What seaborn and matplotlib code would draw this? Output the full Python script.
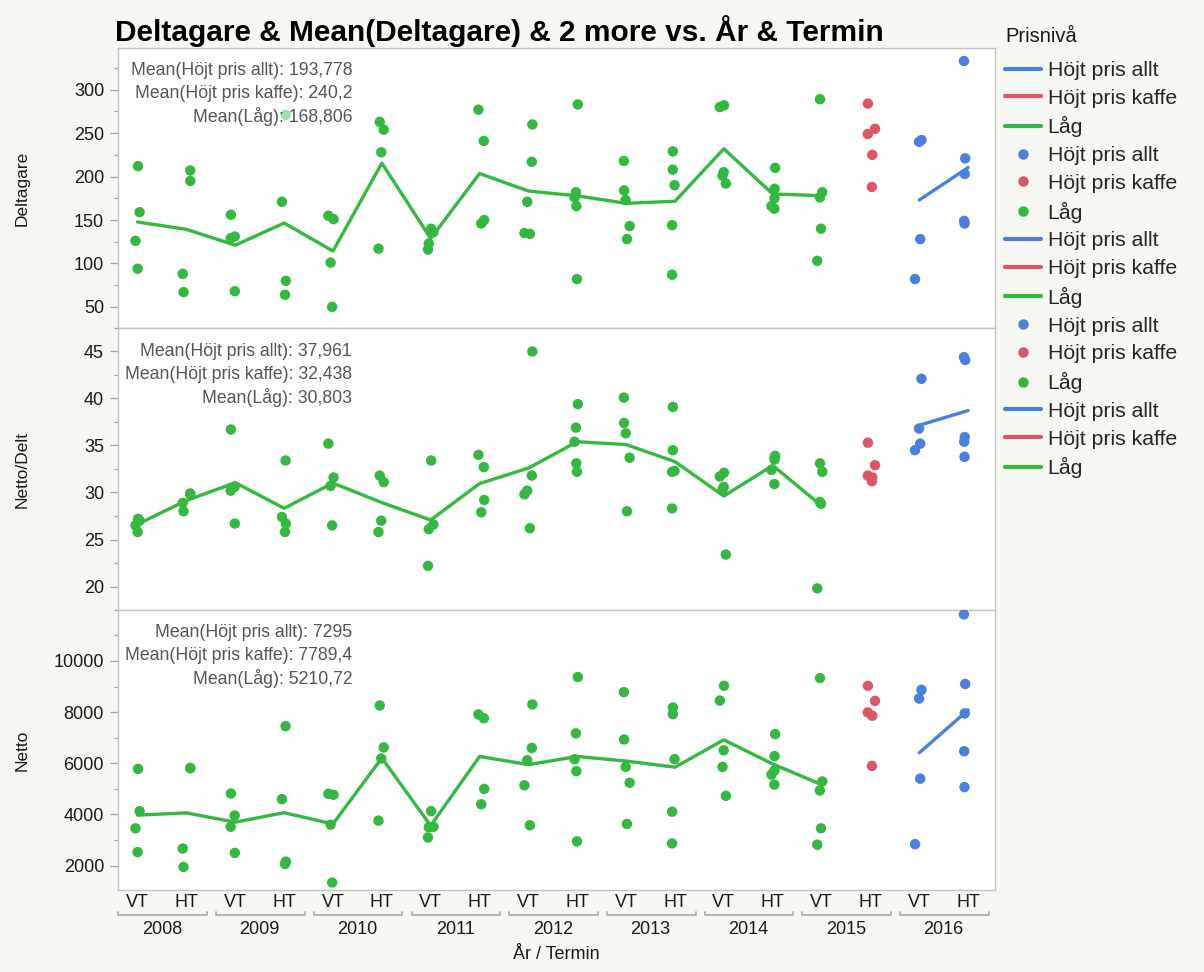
import numpy as np
import pandas as pd
import matplotlib
matplotlib.use("Agg")
import matplotlib.pyplot as plt
import matplotlib.transforms as mtransforms
from matplotlib.lines import Line2D
from matplotlib.ticker import MultipleLocator, AutoMinorLocator
import seaborn as sns

# ---------------- data ----------------
years = ["2008", "2009", "2010", "2011", "2012", "2013", "2014", "2015", "2016"]
terms = ["VT", "HT"]
prisniva = ["Låg"] * 15 + ["Höjt pris kaffe"] + ["Höjt pris allt"] * 2
levels = ["Höjt pris allt", "Höjt pris kaffe", "Låg"]

deltagare = [
    [212, 159, 126, 94], [207, 195, 88, 67], [156, 131, 129, 68], [271, 171, 80, 64],
    [155, 151, 101, 50], [263, 254, 228, 117], [140, 136, 123, 116], [277, 241, 150, 146],
    [260, 217, 171, 135, 134], [283, 182, 176, 166, 82], [218, 184, 173, 143, 128],
    [229, 208, 190, 144, 87], [282, 280, 205, 201, 192], [210, 186, 175, 166, 163],
    [289, 182, 176, 140, 103], [284, 255, 249, 225, 188], [242, 240, 128, 82],
    [333, 221, 203, 149, 146],
]
netto_delt = [
    [27.2, 27.0, 26.5, 25.8], [29.9, 29.8, 28.9, 28.0], [36.7, 30.6, 30.2, 26.7],
    [33.4, 27.4, 26.7, 25.8], [35.2, 31.6, 30.7, 26.5], [31.8, 31.1, 27.0, 25.8],
    [33.4, 26.6, 26.1, 22.2], [34.0, 32.7, 29.2, 27.9], [45.0, 31.8, 30.2, 29.8, 26.2],
    [39.4, 36.9, 35.4, 33.1, 32.2], [40.1, 37.4, 36.3, 33.7, 28.0],
    [39.1, 34.5, 32.3, 32.2, 28.3], [32.1, 31.7, 30.6, 30.3, 23.4],
    [33.9, 33.7, 33.5, 32.4, 30.9], [33.1, 32.2, 29.0, 28.8, 19.8],
    [35.3, 32.9, 31.8, 31.6, 31.2], [42.1, 36.8, 35.2, 34.5],
    [44.4, 44.1, 35.9, 35.4, 33.8],
]
netto = [
    [5780, 4130, 3460, 2530], [5820, 5810, 2670, 1950], [4820, 3960, 3520, 2500],
    [7450, 4600, 2160, 2070], [4810, 4770, 3600, 1340], [8260, 6620, 6190, 3760],
    [4130, 3520, 3500, 3100], [7910, 7760, 5000, 4400], [8300, 6600, 6120, 5140, 3580],
    [9370, 7170, 6160, 5690, 2950], [8780, 6930, 5860, 5240, 3630],
    [8180, 7920, 6160, 4110, 2870], [9030, 8450, 6510, 5860, 4730],
    [7140, 6280, 5720, 5560, 5170], [9330, 5290, 4940, 3460, 2820],
    [9030, 8440, 7990, 7860, 5900], [8870, 8530, 5400, 2840],
    [11820, 9100, 7950, 6470, 5070],
]
mean_texts = [
    ["Mean(Höjt pris allt): 193,778", "Mean(Höjt pris kaffe): 240,2", "Mean(Låg): 168,806"],
    ["Mean(Höjt pris allt): 37,961", "Mean(Höjt pris kaffe): 32,438", "Mean(Låg): 30,803"],
    ["Mean(Höjt pris allt): 7295", "Mean(Höjt pris kaffe): 7789,4", "Mean(Låg): 5210,72"],
]

rows = []
for i in range(len(deltagare)):
    for d, nd, n in zip(deltagare[i], netto_delt[i], netto[i]):
        rows.append({"pos": i, "Prisnivå": prisniva[i], "Deltagare": d,
                     "Netto/Delt": nd, "Netto": n})
df = pd.DataFrame(rows)

# ---------------- style ----------------
sns.set_theme(style="white")
plt.rcParams["font.family"] = ["Liberation Sans", "DejaVu Sans"]
palette = {"Höjt pris allt": "#4a80de", "Höjt pris kaffe": "#dc5668", "Låg": "#33b840"}
bg = "#f7f7f3"
spine_c = "#c4c4c4"

fig = plt.figure(figsize=(12.04, 9.72), dpi=100, facecolor=bg)
W, H = 1204, 972
left, right = 118 / W, 995 / W
panels = [(48, 328), (328, 610), (610, 890)]
cols = ["Deltagare", "Netto/Delt", "Netto"]
ylims = [(25.7, 348), (17.5, 47.5), (1050, 11990)]
majors = [50, 5, 2000]

axes = []
for k, ((t, b), col) in enumerate(zip(panels, cols)):
    ax = fig.add_axes([left, (H - b) / H, right - left, (b - t) / H])
    ax.set_facecolor("white")
    np.random.seed(3)
    sns.stripplot(data=df, x="pos", y=col, hue="Prisnivå", hue_order=levels,
                  palette=palette, order=list(range(18)), jitter=0.1, size=7.5,
                  linewidth=0, legend=False, ax=ax, zorder=3)
    sns.lineplot(data=df, x="pos", y=col, hue="Prisnivå", hue_order=levels,
                 palette=palette, estimator="mean", errorbar=None, linewidth=2.4,
                 legend=False, ax=ax, zorder=2)
    ax.set_xlim(-0.4, 17.55)
    ax.set_ylim(*ylims[k])
    ax.yaxis.set_major_locator(MultipleLocator(majors[k]))
    ax.yaxis.set_minor_locator(AutoMinorLocator(2))
    ax.tick_params(axis="y", which="major", left=True, length=6, width=0.9,
                   color="#a0a0a0", labelsize=13, labelcolor="#1a1a1a", pad=4)
    ax.tick_params(axis="y", which="minor", left=True, length=3, width=0.9, color="#a0a0a0")
    ax.set_xlabel("")
    ax.set_ylabel("")
    for s in ax.spines.values():
        s.set_color(spine_c)
        s.set_linewidth(1.0)
    for j, txt in enumerate(mean_texts[k]):
        ax.text(0.267, 0.918 - j * 0.082, txt, transform=ax.transAxes, ha="right",
                va="center", fontsize=12.7, color="#555555", zorder=5,
                bbox=dict(facecolor="white", edgecolor="none", alpha=0.55, pad=0.5))
    fig.text(22 / W, 1 - ((t + b) / 2) / H, col, rotation=90, ha="center",
             va="center", fontsize=12.5, color="#1a1a1a")
    if k < 2:
        ax.tick_params(axis="x", bottom=False, labelbottom=False)
    axes.append(ax)

axb = axes[-1]
axb.set_xticks(range(18))
axb.set_xticklabels([terms[i % 2] for i in range(18)], fontsize=13, color="#1a1a1a")
axb.tick_params(axis="x", bottom=False, length=0, pad=3)
trans = mtransforms.blended_transform_factory(axb.transData, axb.transAxes)
for i, yr in enumerate(years):
    x0, x1 = 2 * i - 0.39, 2 * i + 1.42
    axb.plot([x0, x0, x1, x1], [-0.077, -0.09, -0.09, -0.077], transform=trans,
             color="#b0b0b0", lw=1.3, clip_on=False)
    axb.text(2 * i + 0.5, -0.14, yr, transform=trans, ha="center", va="center",
             fontsize=13, color="#1a1a1a")
axb.text(0.5, -0.232, "År / Termin", transform=axb.transAxes, ha="center",
         va="center", fontsize=13, color="#1a1a1a")

fig.text(115 / W, 1 - 31 / H, "Deltagare & Mean(Deltagare) & 2 more vs. År & Termin",
         ha="left", va="center", fontsize=21.5, fontweight="bold", color="black")

# legend
fig.text(1005 / W, 1 - 36 / H, "Prisnivå", ha="left", va="center", fontsize=14.5,
         color="#1a1a1a")
handles, labels = [], []
blocks = ["line", "dot", "line", "dot", "line"]
for bk in blocks:
    for lv in levels:
        if bk == "line":
            handles.append(Line2D([], [], color=palette[lv], lw=3))
        else:
            handles.append(Line2D([], [], color=palette[lv], marker="o", ls="", markersize=6.5))
        labels.append(lv)
fig.legend(handles, labels, loc="upper left",
           bbox_to_anchor=(1005 / W, 1 - 61 / H), frameon=False, fontsize=15.3,
           handlelength=1.7, handletextpad=0.3,
           labelspacing=0.41, borderaxespad=0, borderpad=0)

fig.savefig("out.png", dpi=100, facecolor=bg)
